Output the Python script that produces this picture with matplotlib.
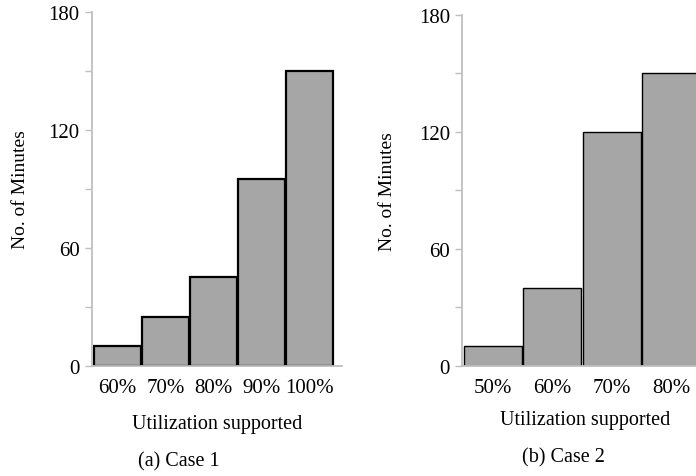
import matplotlib
matplotlib.use("Agg")
import matplotlib.pyplot as plt
from matplotlib.ticker import MultipleLocator

plt.rcParams['font.family'] = ['Liberation Serif', 'DejaVu Serif']

# data
case1_labels = ['60%', '70%', '80%', '90%', '100%']
case1_minutes = [10, 25, 45, 95, 150]
case2_labels = ['50%', '60%', '70%', '80%']
case2_minutes = [10, 40, 120, 150]

W, H = 696, 477
fig = plt.figure(figsize=(W / 100, H / 100), dpi=100)

bar_color = '#a6a6a6'
axis_color = '#bfbfbf'


def style_axes(ax):
    for s in ['top', 'right']:
        ax.spines[s].set_visible(False)
    for s in ['left', 'bottom']:
        ax.spines[s].set_color(axis_color)
        ax.spines[s].set_linewidth(1.3)
    ax.set_ylim(0, 180)
    ax.yaxis.set_major_locator(MultipleLocator(60))
    ax.yaxis.set_minor_locator(MultipleLocator(30))
    ax.tick_params(axis='y', which='both', direction='out', length=5,
                   color=axis_color, width=1.0, labelsize=15, pad=4)
    ax.tick_params(axis='x', length=0, labelsize=15, pad=9)


# (a) Case 1
ax1 = fig.add_axes([92 / W, (H - 366.7) / H, 250 / W, 354 / H])
x1 = range(len(case1_labels))
ax1.bar(x1, case1_minutes, width=0.97, color=bar_color,
        edgecolor='black', linewidth=1.6)
ax1.set_xticks(list(x1))
ax1.set_xticklabels(case1_labels)
ax1.set_xlim(-0.53, 4.68)
style_axes(ax1)
ax1.set_ylabel('No. of Minutes', fontsize=14, labelpad=14)
ax1.set_xlabel('Utilization supported', fontsize=14.5, labelpad=12)
fig.text(179 / W, 1 - 462 / H, '(a) Case 1', fontsize=14.5,
         ha='center', va='center')

# (b) Case 2 (cut off at right edge in the original)
ax2 = fig.add_axes([462.3 / W, (H - 366.7) / H, 245 / W, 351 / H])
x2 = range(len(case2_labels))
ax2.bar(x2, case2_minutes, width=0.975, color=bar_color,
        edgecolor='black', linewidth=1.0)
ax2.set_xticks(list(x2))
ax2.set_xticklabels(case2_labels)
ax2.set_xlim(-0.51, -0.51 + 245 / 59.5)
style_axes(ax2)
ax2.set_ylabel('No. of Minutes', fontsize=14, labelpad=16)
ax2.set_xlabel('Utilization supported', fontsize=14.5, labelpad=9)
fig.text(563 / W, 1 - 458 / H, '(b) Case 2', fontsize=14.5,
         ha='center', va='center')

fig.savefig('out.png', dpi=100)
